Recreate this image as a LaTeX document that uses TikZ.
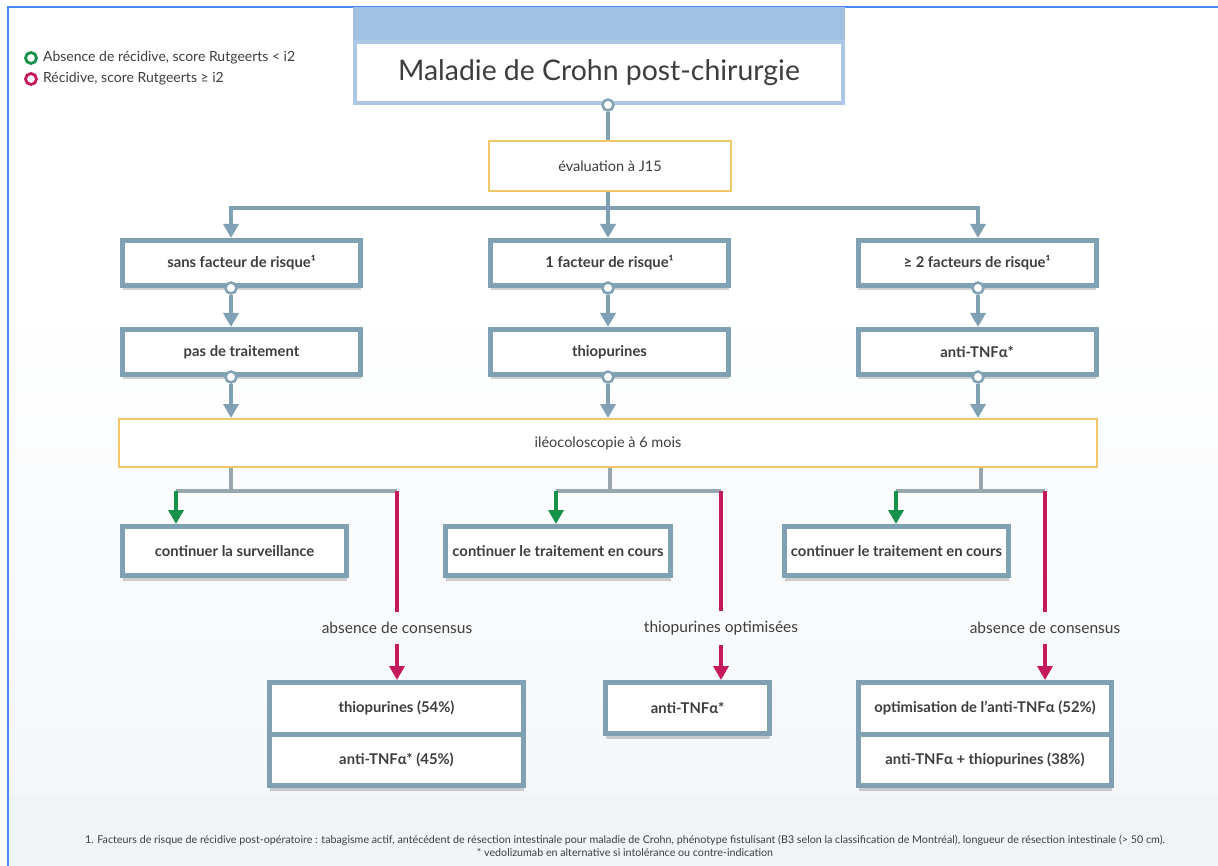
\documentclass[tikz,border=0pt]{standalone}
\usepackage{fontspec}
\setmainfont{Lato}
\usetikzlibrary{positioning}
\usetikzlibrary{arrows.meta}
\usetikzlibrary{shadows}

\definecolor{framec}{HTML}{4A8AF4}
\definecolor{bgc}{HTML}{F4F7FA}
\definecolor{bgc2}{HTML}{F1F4F7}
\definecolor{boxc}{HTML}{7FA1B3}
\definecolor{grayc}{HTML}{98A6AE}
\definecolor{okc}{HTML}{17924A}
\definecolor{noc}{HTML}{C41A5B}
\definecolor{yelc}{HTML}{F2C768}
\definecolor{titc}{HTML}{ACC7E3}
\definecolor{bandc}{HTML}{A2C1E2}
\definecolor{txtc}{HTML}{3D3D3D}

\begin{document}
\begin{tikzpicture}
	[x=1pt,y=-1pt,>={Triangle[width=15pt,length=14pt]},
	rbox/.style={rectangle,draw=boxc,line width=5pt,fill=white,text=txtc,minimum width=238pt,minimum height=45pt,
		font=\fontsize{14.8}{17}\selectfont\bfseries,
		drop shadow={shadow xshift=0pt,shadow yshift=-5pt,opacity=.18,fill=black}},
	ybox/.style={rectangle,draw=yelc,line width=2pt,fill=white,text=txtc,font=\fontsize{14.5}{17}\selectfont},
	tbox/.style={rectangle,draw=titc,line width=4pt,fill=white,text=txtc,minimum width=488pt,minimum height=61pt,
		font=\fontsize{28.4}{33}\selectfont},
	dot/.style={circle,draw=boxc,line width=2.5pt,fill=white,inner sep=0pt,minimum size=11pt},
	conn/.style={boxc,line width=4pt},
	stub/.style={grayc,line width=3.5pt},
	good/.style={okc,line width=4pt},
	bad/.style={noc,line width=4.5pt},
	lab/.style={text=txtc,font=\fontsize{15.5}{18}\selectfont,inner ysep=10pt},
	ring/.style={circle,line width=2.8pt,inner sep=0pt,minimum size=11pt},
	legend/.style={text=txtc,font=\fontsize{14}{17}\selectfont,inner sep=0pt},
	note/.style={text=txtc,font=\fontsize{10.7}{13}\selectfont,align=center}]
	\useasboundingbox (0,0) rectangle (1218,866);
	\shade[top color=white,bottom color=bgc] (8,300) rectangle (1218,795);
	\fill[bgc2] (8,795) rectangle (1218,866);
	\draw[framec,line width=2pt] (8,866) -- (8,7) -- (1218,7);
	\node[ring,draw=okc] (lgok) at (31,58) {};
	\node[legend] (lgoktx) [right=5pt of lgok] {Absence de récidive, score Rutgeerts < i2};
	\node[ring,draw=noc] (lgno) at (31,79) {};
	\node[legend] (lgnotx) [right=5pt of lgno] {Récidive, score Rutgeerts ≥ i2};
	\node[tbox] (titl) at (599,72.5) {Maladie de Crohn post-chirurgie};
	\fill[bandc] (titl.north west) rectangle ([yshift=33pt]titl.north east);
	\coordinate (axA) at (231,0);
	\coordinate (axB) at (608,0);
	\coordinate (axC) at (978,0);
	\node[ybox,minimum width=242pt,minimum height=50pt] (eval) at (610,166) {évaluation à J15};
	\node[dot] (d0) at (titl.south -| axB) {};
	\draw[conn] (d0) -- (eval.north -| d0);
	\node[rbox] (risk0) at (241.5,263) {sans facteur de risque¹};
	\node[rbox] (risk1) at (609.5,263) {1 facteur de risque¹};
	\node[rbox] (risk2) at (977,263) {≥ 2 facteurs de risque¹};
	\node[rbox] (trt0) [below=39pt of risk0] {pas de traitement};
	\node[rbox] (trt1) [below=39pt of risk1] {thiopurines};
	\node[rbox] (trt2) [below=39pt of risk2] {anti-TNFα*};
	\node[ybox,minimum width=978pt,minimum height=48pt] (ileo) at (608,443) {iléocoloscopie à 6 mois};
	\coordinate (fork) at (608,208);
	\draw[conn] (eval.south -| fork) -- (fork);
	\draw[conn,->] (fork) -| (risk0.north -| axA);
	\draw[conn,->] (fork) -- (risk1.north -| fork);
	\draw[conn,->] (fork) -| (risk2.north -| axC);
	\node[dot] (d1a) at (risk0.south -| axA) {};
	\node[dot] (d1b) at (risk1.south -| axB) {};
	\node[dot] (d1c) at (risk2.south -| axC) {};
	\draw[conn,->] (d1a) -- (trt0.north -| d1a);
	\draw[conn,->] (d1b) -- (trt1.north -| d1b);
	\draw[conn,->] (d1c) -- (trt2.north -| d1c);
	\node[dot] (d2a) at (trt0.south -| axA) {};
	\node[dot] (d2b) at (trt1.south -| axB) {};
	\node[dot] (d2c) at (trt2.south -| axC) {};
	\draw[conn,->] (d2a) -- (ileo.north -| d2a);
	\draw[conn,->] (d2b) -- (ileo.north -| d2b);
	\draw[conn,->] (d2c) -- (ileo.north -| d2c);
	\coordinate (hA) at (231,491);
	\coordinate (hB) at (610,491);
	\coordinate (hC) at (981,491);
	\coordinate (gA) at (176,491);
	\coordinate (gB) at (556,491);
	\coordinate (gC) at (896,491);
	\coordinate (rA) at (397,491);
	\coordinate (rB) at (721,491);
	\coordinate (rC) at (1045,491);
	\draw[stub] (ileo.south -| hA) -- (hA);
	\draw[stub] (ileo.south -| hB) -- (hB);
	\draw[stub] (ileo.south -| hC) -- (hC);
	\draw[stub] (gA) -- (rA);
	\draw[stub] (gB) -- (rB);
	\draw[stub] (gC) -- (rC);
	\node[rbox,minimum width=224pt,minimum height=49pt] (cont0) at (234.5,551) {continuer la surveillance};
	\node[rbox,minimum width=225pt,minimum height=49pt] (cont1) at (558,551) {continuer le traitement en cours};
	\node[rbox,minimum width=224pt,minimum height=49pt] (cont2) at (896.5,551) {continuer le traitement en cours};
	\draw[good,->] (gA) -- (cont0.north -| gA);
	\draw[good,->] (gB) -- (cont1.north -| gB);
	\draw[good,->] (gC) -- (cont2.north -| gC);
	\node[lab] (lab0) at (397,628) {absence de consensus};
	\node[lab] (lab1) at (721,628) {thiopurines optimisées};
	\node[lab] (lab2) at (1045,628) {absence de consensus};
	\node[rbox,minimum width=254pt,minimum height=51.5pt] (res0a) at (396.5,708.25) {thiopurines (54\%)};
	\node[rbox,minimum width=254pt,minimum height=51.5pt] (res0b) [below=-5pt of res0a] {anti-TNFα* (45\%)};
	\node[rbox,minimum width=164pt,minimum height=51pt] (res1) at (687.5,708) {anti-TNFα*};
	\node[rbox,minimum width=253pt,minimum height=51.5pt] (res2a) at (985,708.25) {optimisation de l’anti-TNFα (52\%)};
	\node[rbox,minimum width=253pt,minimum height=51.5pt] (res2b) [below=-5pt of res2a] {anti-TNFα + thiopurines (38\%)};
	\draw[bad] (rA) -- (lab0);
	\draw[bad] (rB) -- (lab1);
	\draw[bad] (rC) -- (lab2);
	\draw[bad,->] (lab0) -- (res0a.north -| lab0);
	\draw[bad,->] (lab1) -- (res1.north -| lab1);
	\draw[bad,->] (lab2) -- (res2a.north -| lab2);
	\node[note] (note) at (625,846) {1. Facteurs de risque de récidive post-opératoire : tabagisme actif, antécédent de résection intestinale pour maladie de Crohn, phénotype fistulisant (B3 selon la classification de Montréal), longueur de résection intestinale (> 50 cm).\\{}* vedolizumab en alternative si intolérance ou contre-indication};
\end{tikzpicture}
\end{document}
